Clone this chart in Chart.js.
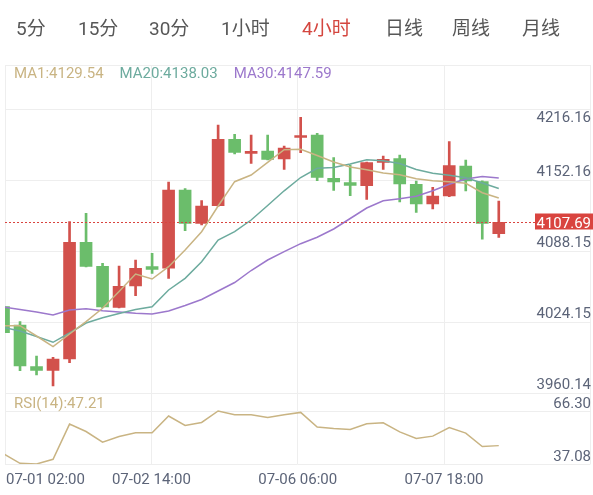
<!DOCTYPE html>
<html>
<head>
<meta charset="utf-8">
<script src="https://cdn.jsdelivr.net/npm/chart.js@4.4.0/dist/chart.umd.min.js"></script>
<style>
html, body { margin: 0; padding: 0; background: #fff; }
#wrap { position: relative; width: 593px; height: 495px; overflow: hidden; }
#kline { position: absolute; left: 0; top: 0; }
.tab { position: absolute; top: 18px; font: 19px Roboto, "Noto Sans CJK SC", sans-serif; line-height: 22px; color: #575757; white-space: nowrap; }
.tab.on { color: #d4463f; }
</style>
</head>
<body>
<div id="wrap">
  <canvas id="kline" width="593" height="495"></canvas>
  <span class="tab" style="left:16px">5分</span>
  <span class="tab" style="left:78px">15分</span>
  <span class="tab" style="left:149px">30分</span>
  <span class="tab" style="left:221px">1小时</span>
  <span class="tab on" style="left:302px">4小时</span>
  <span class="tab" style="left:385px">日线</span>
  <span class="tab" style="left:452px">周线</span>
  <span class="tab" style="left:522px">月线</span>
</div>
<script>
// 4h candles, oldest first
var opens  = [4031.54, 4015.05, 3977.46, 3974.21, 3984.40, 4089.59, 4067.96, 4031.00, 4050.20, 4067.60,
              4066.16, 4136.74, 4106.72, 4122.58, 4182.44, 4169.82, 4171.89, 4164.68, 4184.24, 4186.31,
              4147.28, 4143.32, 4140.61, 4161.70, 4164.95, 4141.87, 4124.12, 4131.33, 4158.37, 4144.22, 4097.34];
var closes = [4008.11, 3978.09, 3974.21, 3984.40, 4089.59, 4067.96, 4031.27, 4049.93, 4066.16, 4065.25,
              4136.74, 4106.72, 4122.31, 4182.44, 4170.72, 4171.62, 4164.41, 4174.59, 4185.68, 4148.18,
              4143.95, 4140.97, 4161.34, 4164.41, 4142.14, 4124.12, 4131.33, 4158.64, 4144.85, 4106.72, 4107.69];
var highs  = [4032.40, 4018.02, 3987.10, 3985.93, 4108.16, 4115.73, 4070.66, 4068.23, 4073.64, 4079.68,
              4143.95, 4137.91, 4127.09, 4195.33, 4186.94, 4186.31, 4186.31, 4176.40, 4202.27, 4187.84,
              4165.85, 4159.27, 4162.00, 4167.38, 4168.28, 4144.85, 4139.17, 4180.27, 4163.78, 4145.00, 4126.82];
var lows   = [4007.30, 3973.85, 3969.98, 3960.14, 3981.06, 4067.33, 4030.60, 4030.40, 4041.46, 4061.65,
              4057.14, 4100.05, 4105.19, 4121.90, 4169.19, 4160.80, 4163.96, 4155.39, 4170.36, 4145.12,
              4136.46, 4131.60, 4128.35, 4155.39, 4125.92, 4116.63, 4119.61, 4130.80, 4135.83, 4092.30, 4094.10];

var ma1  = [4014.42, 4014.42, 4005.13, 3995.49, 4006.93, 4018.02, 4030.10, 4045.24, 4061.02, 4056.51,
            4067.60, 4082.65, 4099.15, 4122.31, 4144.22, 4150.26, 4161.70, 4173.06, 4173.42, 4167.83,
            4161.98, 4157.47, 4155.03, 4152.06, 4150.53, 4146.83, 4145.12, 4144.22, 4142.77, 4134.30, 4129.54];
var ma20 = [4012.79, 4009.64, 4004.68, 3999.45, 4007.84, 4016.85, 4021.63, 4025.50, 4029.02, 4031.54,
            4046.60, 4057.14, 4072.11, 4091.67, 4099.15, 4109.69, 4122.76, 4136.01, 4148.00, 4156.30,
            4157.02, 4160.17, 4164.05, 4163.06, 4160.62, 4155.21, 4151.79, 4149.99, 4147.73, 4143.05, 4138.03];
var ma30 = [4031.27, 4029.02, 4026.76, 4024.06, 4028.57, 4029.65, 4027.85, 4026.76, 4025.59, 4024.96,
            4027.67, 4032.62, 4038.03, 4045.69, 4053.36, 4064.17, 4073.64, 4081.12, 4088.33, 4094.19,
            4101.58, 4111.05, 4120.51, 4127.09, 4128.80, 4131.06, 4136.01, 4141.96, 4146.65, 4148.99, 4147.59];
var rsi  = [42.74, 37.47, 37.08, 39.69, 59.10, 55.00, 49.11, 52.22, 54.27, 54.30,
            63.53, 58.32, 59.98, 66.30, 64.25, 64.20, 62.75, 64.25, 65.53, 57.43,
            56.65, 56.10, 59.26, 59.81, 54.82, 51.11, 52.44, 57.21, 54.10, 46.67, 47.21];

var priceTicks = [4216.16, 4152.16, 4088.15, 4024.15, 3960.14];
var rsiTicks   = [66.30, 37.08];
var dateLabels = ['07-01 02:00', '07-02 14:00', '07-06 06:00', '07-07 18:00'];

var RED = '#d2514c', GREEN = '#6bbd6b';
var C_MA1 = '#c9b483', C_MA20 = '#6dab9e', C_MA30 = '#9c78cc';
var GRID = '#eeeeee', AXIS_TEXT = '#5c6478';
var GRID_SHIFT = 7.4;

var X_MIN = 0.09, X_MAX = 35.55;

function candleColor(i) {
  return closes[i] >= opens[i] ? RED : GREEN;
}
function pts(arr) {
  return arr.map(function (v, i) { return { x: i, y: v }; });
}
function lineSet(arr, color, axis) {
  return {
    type: 'line', data: pts(arr), borderColor: color, borderWidth: 1.5,
    pointRadius: 0, tension: 0, yAxisID: axis, order: 1
  };
}

var panelGrid = {
  id: 'panelGrid',
  beforeDatasetsDraw: function (chart) {
    var ctx = chart.ctx, a = chart.chartArea, s = chart.scales;
    ctx.save();
    ctx.strokeStyle = GRID;
    ctx.lineWidth = 1;
    function hline(y) {
      ctx.beginPath(); ctx.moveTo(a.left, y); ctx.lineTo(a.right, y); ctx.stroke();
    }
    hline(Math.round(a.top) + 0.5);
    priceTicks.forEach(function (v) { hline(Math.round(s.y.getPixelForValue(v) + GRID_SHIFT) + 0.5); });
    rsiTicks.forEach(function (v) { hline(Math.round(s.yr.getPixelForValue(v)) + 0.5); });
    ctx.restore();
  },
  afterDatasetsDraw: function (chart) {
    var ctx = chart.ctx, a = chart.chartArea, s = chart.scales;
    var right = 591;
    ctx.save();
    ctx.font = '15px Roboto';
    ctx.textBaseline = 'alphabetic';

    // price axis labels
    ctx.fillStyle = AXIS_TEXT;
    ctx.textAlign = 'right';
    priceTicks.forEach(function (v, k) {
      var g = Math.round(s.y.getPixelForValue(v) + GRID_SHIFT);
      ctx.fillText(v.toFixed(2), right, k === 0 ? g + 13 : g - 4);
    });
    rsiTicks.forEach(function (v) {
      var g = Math.round(s.yr.getPixelForValue(v));
      ctx.fillText(v.toFixed(2), right, g - 3);
    });

    // time labels under the x grid lines
    s.x.ticks.forEach(function (t, k) {
      if (!dateLabels[k]) return;
      ctx.textAlign = k === 0 ? 'left' : 'center';
      ctx.fillText(dateLabels[k], s.x.getPixelForValue(t.value) + (k === 0 ? 1 : 0), a.bottom + 19.5);
    });

    // last price line and tag
    var last = closes[closes.length - 1];
    var py = Math.round(s.y.getPixelForValue(last)) + 0.5;
    ctx.strokeStyle = '#d9443f';
    ctx.lineWidth = 1;
    ctx.setLineDash([2, 2]);
    ctx.beginPath(); ctx.moveTo(a.left, py); ctx.lineTo(535, py); ctx.stroke();
    ctx.setLineDash([]);
    ctx.fillStyle = '#d9443f';
    ctx.fillRect(535, py - 9, 58, 16);
    ctx.fillStyle = '#ffffff';
    ctx.textAlign = 'right';
    ctx.fillText(last.toFixed(2), right, py + 5);

    // legends
    ctx.textAlign = 'left';
    var n = ma1.length - 1, x = 14;
    [['MA1:', ma1[n], C_MA1], ['MA20:', ma20[n], C_MA20], ['MA30:', ma30[n], C_MA30]].forEach(function (m) {
      var t = m[0] + m[1].toFixed(2);
      ctx.fillStyle = m[2];
      ctx.fillText(t, x, 78);
      x += ctx.measureText(t).width + 16;
    });
    ctx.fillStyle = C_MA1;
    ctx.fillText('RSI(14):' + rsi[rsi.length - 1].toFixed(2), 14, 407.5);
    ctx.restore();
  }
};

Chart.defaults.font.family = 'Roboto';

var ctx = document.getElementById('kline').getContext('2d');
window.chart = new Chart(ctx, {
  type: 'bar',
  data: {
    datasets: [
      lineSet(ma1, C_MA1, 'y'),
      lineSet(ma20, C_MA20, 'y'),
      lineSet(ma30, C_MA30, 'y'),
      lineSet(rsi, C_MA1, 'yr'),
      {
        type: 'bar', label: 'body',
        data: opens.map(function (o, i) { return { x: i, y: [o, closes[i]] }; }),
        backgroundColor: function (c) { return candleColor(c.dataIndex); },
        barThickness: 12, grouped: false, yAxisID: 'y', order: 2
      },
      {
        type: 'bar', label: 'wick',
        data: lows.map(function (l, i) { return { x: i, y: [l, highs[i]] }; }),
        backgroundColor: function (c) { return candleColor(c.dataIndex); },
        barThickness: 2, grouped: false, yAxisID: 'y', order: 3
      }
    ]
  },
  options: {
    responsive: false,
    animation: false,
    events: [],
    layout: { padding: { left: 5, right: 2.6, top: 65, bottom: 31 } },
    plugins: { legend: { display: false }, tooltip: { enabled: false } },
    scales: {
      x: {
        type: 'linear', min: X_MIN, max: X_MAX, offset: false,
        afterBuildTicks: function (scale) {
          var step = (X_MAX - X_MIN) / 4, t = [];
          for (var k = 0; k <= 4; k++) t.push({ value: X_MIN + k * step });
          scale.ticks = t;
        },
        ticks: { display: false },
        grid: { color: GRID, drawTicks: false, offset: false },
        border: { display: false }
      },
      y:  { type: 'linear', display: false, min: 3889.75, max: 4249.41 },
      yr: { type: 'linear', display: false, min: 37.08, max: 257.06 }
    }
  },
  plugins: [panelGrid]
});
</script>
</body>
</html>
